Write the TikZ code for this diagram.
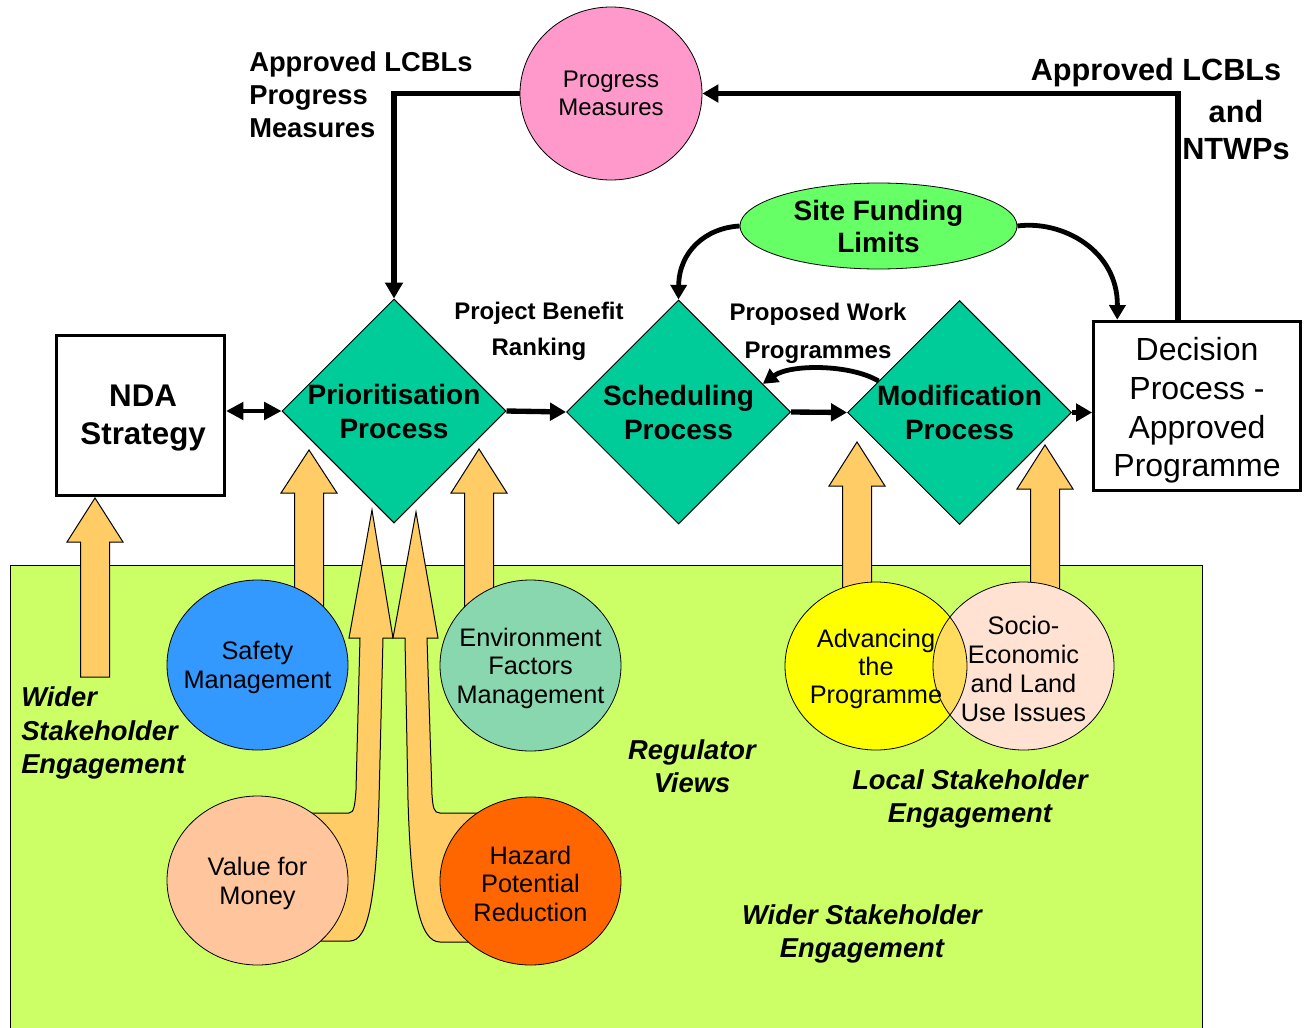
\documentclass[tikz,border=0pt]{standalone}
\usepackage{fontspec}
\setmainfont{Liberation Sans}
\usetikzlibrary{shapes.geometric,arrows.meta,calc}
\definecolor{bggreen}{HTML}{CCFF66}
\definecolor{diagreen}{HTML}{00CC99}
\definecolor{pinkc}{HTML}{FF99CC}
\definecolor{sitegreen}{HTML}{66FF66}
\definecolor{orangearrow}{HTML}{FFCC66}
\definecolor{safetyblue}{HTML}{3399FF}
\definecolor{envgreen}{HTML}{88D7AE}
\definecolor{peachc}{HTML}{FFC69E}
\definecolor{hazardc}{HTML}{FF6600}
\definecolor{advyellow}{HTML}{FFFF00}
\definecolor{socioc}{HTML}{FFE2D2}
\definecolor{overlapc}{HTML}{FFDB5E}
\newcommand{\blockup}[4]{%
  \draw[blockarrow] (#1-14.5,#4) -- (#1-14.5,#3) -- (#1-28,#3) -- (#1,#2)
    -- (#1+28,#3) -- (#1+14.5,#3) -- (#1+14.5,#4) -- cycle;}
\begin{document}
\begin{tikzpicture}[x=0.75pt,y=-0.75pt,
  blockarrow/.style={fill=orangearrow, draw=black, line width=0.75pt, line join=miter},
  dia/.style={diamond, aspect=1, draw=black, line width=0.75pt, fill=diagreen,
    minimum width=168pt, minimum height=168pt, inner sep=0pt},
  diatext/.style={font=\bfseries\fontsize{21}{25.5}\selectfont, align=center},
  bub/.style={ellipse, draw=black, line width=0.6pt, inner sep=0pt},
  circtext/.style={font=\fontsize{19}{21.5}\selectfont, align=center, yshift=-2pt},
  boxnode/.style={draw=black, line width=2.4pt, fill=white, inner sep=0pt, align=center},
  flowarrow/.style={line width=4pt, -{Triangle[length=12pt,width=13pt]}},
  curvearrow/.style={line width=3.6pt, -{Triangle[length=11pt,width=12pt]}},
  dblarrow/.style={line width=3pt, {Triangle[length=13pt,width=13pt]}-{Triangle[length=13pt,width=13pt]}},
  boldlbl/.style={inner sep=0pt, align=center},
  itlbl/.style={inner sep=0pt, align=center, font=\bfseries\itshape\fontsize{20.5}{25}\selectfont}]
\useasboundingbox (0,0) rectangle (1304,1028);
\fill[white] (0,0) rectangle (1304,1028);
% green field
\filldraw[fill=bggreen, draw=black, line width=0.75pt] (10,565) rectangle (1202,1045);
% straight block arrows
\blockup{95}{498}{542}{677}
\blockup{309}{450}{493}{620}
\blockup{479}{449}{493}{620}
\blockup{857}{442}{486}{620}
\blockup{1045}{445}{489}{620}
% tall bent arrows
\draw[blockarrow] (300,813) -- (349,813) .. controls (354,813) and (355,805) .. (356,790)
  -- (360,638) -- (349,638) -- (372,510) -- (393,638) -- (383,638)
  -- (379,800) .. controls (376,900) and (368,941) .. (350,941) -- (300,941) -- cycle;
\draw[blockarrow] (405,638) -- (393,638) -- (416,512) -- (438,638) -- (427,638)
  -- (432,795) .. controls (433,808) and (434,813) .. (440,813) -- (490,813)
  -- (490,942) -- (440,942) .. controls (420,942) and (411,900) .. (408,800) -- cycle;
% lower circles
\node[bub, fill=safetyblue, minimum width=135.75pt, minimum height=127.5pt,
  label={[circtext]center:{Safety\\Management}}] (safety) at (257.5,665) {};
\node[bub, fill=envgreen, minimum width=135.75pt, minimum height=128.25pt,
  label={[circtext]center:{Environment\\Factors\\Management}}] (env) at (530.5,665.5) {};
\node[bub, fill=peachc, minimum width=135.75pt, minimum height=126.75pt,
  label={[circtext]center:{Value for\\Money}}] (vfm) at (257.5,880.5) {};
\node[bub, fill=hazardc, minimum width=135.75pt, minimum height=126pt,
  label={[circtext]center:{Hazard\\Potential\\Reduction}}] (hazard) at (530.5,881) {};
% overlapping pair
\fill[advyellow] (876,666) ellipse [x radius=68.25pt, y radius=63pt];
\fill[socioc] (1023.5,666) ellipse [x radius=67.9pt, y radius=63pt];
\begin{scope}
  \clip (876,666) ellipse [x radius=68.25pt, y radius=63pt];
  \fill[overlapc] (1023.5,666) ellipse [x radius=67.9pt, y radius=63pt];
\end{scope}
\node[bub, minimum width=136.5pt, minimum height=126pt,
  label={[circtext, font=\fontsize{19}{21}\selectfont]center:{Advancing\\the\\Programme}}] (adv) at (876,666) {};
\node[bub, minimum width=135.75pt, minimum height=126pt,
  label={[circtext, font=\fontsize{19}{21.75}\selectfont]center:{Socio-\\Economic\\and Land\\Use Issues}}] (socio) at (1023.5,666) {};
% process nodes
\node[boxnode, minimum width=126pt, minimum height=120pt,
  label={[align=center, font=\bfseries\fontsize{23.5}{29}\selectfont, xshift=2pt, yshift=-2pt]center:{NDA\\Strategy}}] (nda) at (140.5,415.5) {};
\node[dia, label={[diatext]center:{Prioritisation\\Process}}] (prior) at (394,411) {};
\node[dia, label={[diatext]center:{Scheduling\\Process}}] (sched) at (678.5,412) {};
\node[dia, label={[diatext]center:{Modification\\Process}}] (mod) at (959.5,412.5) {};
\node[boxnode, minimum width=155pt, minimum height=127pt,
  label={[align=center, font=\fontsize{24}{29}\selectfont, yshift=-3.5pt]center:{Decision\\Process -\\Approved\\Programme}}] (decision) at (1197,406) {};
\node[bub, fill=pinkc, minimum width=136.5pt, minimum height=129.75pt,
  label={[align=center, font=\fontsize{18}{21}\selectfont]center:{Progress\\Measures}}] (progress) at (611,93.5) {};
\node[bub, fill=sitegreen, minimum width=207.75pt, minimum height=64.5pt,
  label={[align=center, font=\bfseries\fontsize{21}{24}\selectfont]center:{Site Funding\\Limits}}] (site) at (878.5,226) {};
% connectors
\draw[dblarrow] (nda.east |- prior.west) -- (prior.west);
\draw[flowarrow] (prior.east) -- (sched.west);
\draw[flowarrow] (sched.east) -- (mod.west);
\draw[flowarrow] (mod.east) -- (decision.west |- mod.east);
\draw[flowarrow] (progress.west) -| (prior.north);
\draw[flowarrow] ($(decision.north west)!0.41!(decision.north east)$) |- (progress.east);
\draw[curvearrow] (site.west) .. controls (705,228) and (679,252) .. (sched.north);
\draw[curvearrow] (site.east) .. controls (1062,220) and (1118,250) .. ($(decision.north west)!0.12!(decision.north east)$);
\draw[curvearrow] ($(mod.west)!0.28!(mod.north)$) .. controls (850,364) and (790,364) .. ($(sched.east)!0.25!(sched.north)$);
% labels
\node[boldlbl, anchor=west, align=left, font=\bfseries\fontsize{20.5}{24.75}\selectfont] (lblpm) at (249,95) {Approved LCBLs\\Progress\\Measures};
\node[boldlbl, font=\bfseries\fontsize{23}{28}\selectfont] (lblap) at (1156,73) {Approved LCBLs};
\node[boldlbl, font=\bfseries\fontsize{23}{28}\selectfont] (lblnt) at (1236,130) {and\\NTWPs};
\node[boldlbl, font=\bfseries\fontsize{18}{27}\selectfont] (lblpb) at (539,331) {Project Benefit\\Ranking};
\node[boldlbl, font=\bfseries\fontsize{18}{28.5}\selectfont] (lblpw) at (818,333) {Proposed Work\\Programmes};
\node[itlbl, anchor=west, align=left] (lblwide1) at (21,733) {Wider\\Stakeholder\\Engagement};
\node[itlbl] (lblreg) at (692,766) {Regulator\\Views};
\node[itlbl] (lbllocal) at (970,799) {Local Stakeholder\\Engagement};
\node[itlbl] (lblwide2) at (862,934) {Wider Stakeholder\\Engagement};
\end{tikzpicture}
\end{document}
